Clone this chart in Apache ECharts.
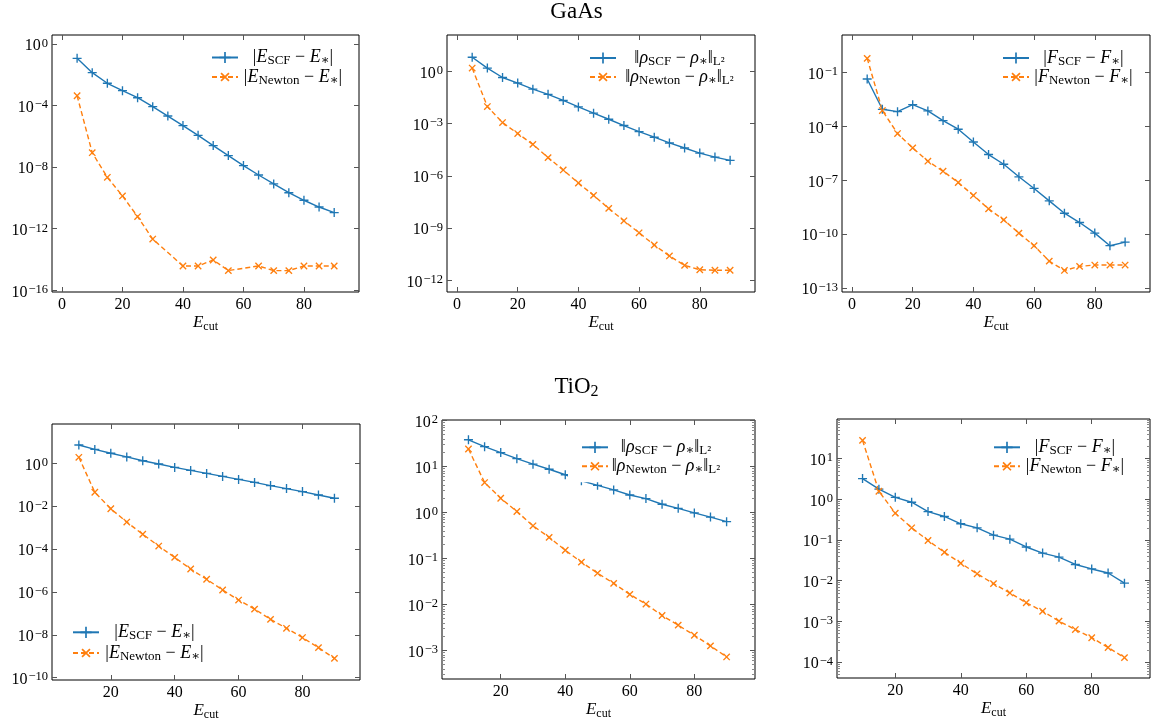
<!DOCTYPE html>
<html><head><meta charset="utf-8">
<script src="https://cdn.jsdelivr.net/npm/echarts@6/dist/echarts.min.js"></script>
<style>html,body{margin:0;padding:0;background:#fff}#c{width:1153px;height:726px}</style>
</head><body><div id="c"></div>
<script>
// ---------------- data ----------------
const ecutGaAs = [5,10,15,20,25,30,35,40,45,50,55,60,65,70,75,80,85,90];
const ecutTiO2 = [10,15,20,25,30,35,40,45,50,55,60,65,70,75,80,85,90];

const gaasEnergyScf = [1.17e-1,1.38e-2,2.82e-3,9.33e-4,3.24e-4,8.51e-5,2.09e-5,5.01e-6,1.17e-6,2.51e-7,5.62e-8,1.26e-8,3.09e-9,8.13e-10,2.19e-10,7.08e-11,2.57e-11,1.12e-11];
const gaasEnergyNewton = [4.37e-4,8.71e-8,2.19e-9,1.35e-10,6.17e-12,2.14e-13,null,3.80e-15,3.80e-15,9.33e-15,1.91e-15,null,3.80e-15,1.91e-15,1.91e-15,3.80e-15,3.80e-15,3.80e-15];
const gaasDensityScf = [6.46,1.55,4.47e-1,2.14e-1,9.55e-2,4.79e-2,2.14e-2,9.12e-3,3.98e-3,1.78e-3,7.76e-4,3.47e-4,1.66e-4,7.76e-5,3.98e-5,2.04e-5,1.20e-5,7.76e-6];
const gaasDensityNewton = [1.55,9.55e-3,1.15e-3,2.69e-4,6.46e-5,1.12e-5,2.19e-6,3.89e-7,7.59e-8,1.35e-8,2.63e-9,5.37e-10,1.07e-10,2.51e-11,7.24e-12,4.07e-12,3.80e-12,3.80e-12];
const gaasForceScf = [4.47e-2,9.12e-4,6.76e-4,1.66e-3,7.41e-4,2.14e-4,7.08e-5,1.38e-5,2.75e-6,7.94e-7,1.58e-7,3.55e-8,7.24e-9,1.48e-9,4.47e-10,1.15e-10,2.29e-11,3.63e-11];
const gaasForceNewton = [6.31e-1,7.76e-4,4.07e-5,6.46e-6,1.17e-6,3.24e-7,7.59e-8,1.45e-8,2.57e-9,6.31e-10,1.15e-10,2.29e-11,3.16e-12,9.55e-13,1.62e-12,1.91e-12,1.91e-12,1.91e-12];

const tio2EnergyScf = [7.16,4.47,2.95,2.00,1.32,9.33e-1,6.46e-1,4.68e-1,3.39e-1,2.45e-1,1.78e-1,1.29e-1,9.12e-2,6.61e-2,4.79e-2,3.31e-2,2.34e-2];
const tio2EnergyNewton = [1.91,4.47e-2,7.59e-3,1.82e-3,4.90e-4,1.38e-4,4.07e-5,1.17e-5,3.89e-6,1.23e-6,4.17e-7,1.58e-7,5.25e-8,2.00e-8,7.41e-9,2.51e-9,7.94e-10];
const tio2DensityScf = [38.0,26.9,20.0,14.8,11.2,8.71,6.61,4.90,3.89,3.09,2.40,2.00,1.51,1.23,0.977,0.794,0.631];
const tio2DensityNewton = [24.0,4.47,2.04,1.05,0.513,0.288,0.151,0.0832,0.0479,0.0288,0.0166,0.0102,0.00575,0.00355,0.00214,0.00126,0.000724];
const tio2ForceScf = [3.24,1.78,1.12,0.851,0.501,0.380,0.251,0.200,0.132,0.105,0.0676,0.0479,0.0380,0.0251,0.0195,0.0155,0.00871];
const tio2ForceNewton = [28.2,1.58,0.457,0.200,0.0977,0.0501,0.0269,0.0148,0.00851,0.00501,0.00288,0.00178,0.00102,0.000631,0.000398,0.000229,0.000129];

// tick labels
const xTicksGaAs = [0,20,40,60,80];
const xTicksTiO2 = [20,40,60,80];
const yTicksGaAsEnergy = [1e-16,1e-12,1e-8,1e-4,1];
const yTicksGaAsDensity = [1e-12,1e-9,1e-6,1e-3,1];
const yTicksGaAsForce = [1e-13,1e-10,1e-7,1e-4,1e-1];
const yTicksTiO2Energy = [1e-10,1e-8,1e-6,1e-4,1e-2,1];
const yTicksTiO2Density = [1e-3,1e-2,1e-1,1,10,100];
const yTicksTiO2Force = [1e-4,1e-3,1e-2,1e-1,1,10];

const titles = ['GaAs', '{t|TiO}{ts|2}'];
const legendLabels = {
  E: ['{n||}{i|E}{sub|SCF}{n| \u2212 }{i|E}{sub|\u2217}{n||}', '{n||}{i|E}{sub|Newton}{n| \u2212 }{i|E}{sub|\u2217}{n||}'],
  rho: ['{n|\u2016}{i|\u03c1}{sub|SCF}{n| \u2212 }{i|\u03c1}{sub|\u2217}{n|\u2016}{sub|L\u00b2}', '{n|\u2016}{i|\u03c1}{sub|Newton}{n| \u2212 }{i|\u03c1}{sub|\u2217}{n|\u2016}{sub|L\u00b2}'],
  F: ['{n||}{i|F}{sub|SCF}{n| \u2212 }{i|F}{sub|\u2217}{n||}', '{n||}{i|F}{sub|Newton}{n| \u2212 }{i|F}{sub|\u2217}{n||}']
};

// ---------------- layout / style ----------------
const FONT = "'Liberation Serif','DejaVu Serif',serif";
const BLUE = '#1f77b4', ORANGE = '#ff7f0e', TICK = '#555';
const PLUS = 'path://M0,4.25H10V5.75H0Z M4.25,0H5.75V10H4.25Z';

const panels = [
  {grid:[52,35,307,257], x:[-3.3,98.2], y:[Math.pow(10,-16.11),Math.pow(10,0.585)], xTicks:xTicksGaAs, yTicks:yTicksGaAsEnergy, ecut:ecutGaAs, scf:gaasEnergyScf, newton:gaasEnergyNewton, lab:'E', leg:{icon:211, r1:58.5, sp:20.5, tw:100}, minor:false},
  {grid:[447,35,308,257], x:[-3.3,98.2], y:[Math.pow(10,-12.67),Math.pow(10,2.09)], xTicks:xTicksGaAs, yTicks:yTicksGaAsDensity, ecut:ecutGaAs, scf:gaasDensityScf, newton:gaasDensityNewton, lab:'rho', leg:{icon:589, r1:59, sp:20, tw:117}, minor:false},
  {grid:[842,35,308,257], x:[-3.3,98.2], y:[Math.pow(10,-13.22),Math.pow(10,1.10)], xTicks:xTicksGaAs, yTicks:yTicksGaAsForce, ecut:ecutGaAs, scf:gaasForceScf, newton:gaasForceNewton, lab:'F', leg:{icon:1002, r1:59, sp:20, tw:99}, minor:false},
  {grid:[52,424,308,256], x:[1.6,98.0], y:[Math.pow(10,-10.11),Math.pow(10,1.835)], xTicks:xTicksTiO2, yTicks:yTicksTiO2Energy, ecut:ecutTiO2, scf:tio2EnergyScf, newton:tio2EnergyNewton, lab:'E', leg:{icon:72, r1:633.3, sp:21.7, tw:101}, minor:false},
  {grid:[442,420,313,259], x:[1.8,98.8], y:[Math.pow(10,-3.62),Math.pow(10,2.01)], xTicks:xTicksTiO2, yTicks:yTicksTiO2Density, ecut:ecutTiO2, scf:tio2DensityScf, newton:tio2DensityNewton, lab:'rho', leg:{icon:581, r1:448.3, sp:20, tw:106}, minor:true},
  {grid:[837,419,313,259], x:[2.2,97.8], y:[Math.pow(10,-4.39),Math.pow(10,1.975)], xTicks:xTicksTiO2, yTicks:yTicksTiO2Force, ecut:ecutTiO2, scf:tio2ForceScf, newton:tio2ForceNewton, lab:'F', leg:{icon:993, r1:448.3, sp:20, tw:100}, minor:true}
];

const RICH_LEG = {
  n:{fontFamily:FONT, fontSize:18, color:'#000', lineHeight:20, align:'center'},
  i:{fontFamily:FONT, fontSize:18, fontStyle:'italic', color:'#000', lineHeight:20, align:'center'},
  sub:{fontFamily:FONT, fontSize:13, color:'#000', lineHeight:12, verticalAlign:'bottom', align:'center'}
};
const RICH_NAME = {
  i:{fontFamily:FONT, fontSize:17, fontStyle:'italic', color:'#000', lineHeight:20},
  sub:{fontFamily:FONT, fontSize:12, color:'#000', lineHeight:12, verticalAlign:'bottom'}
};
const RICH_TICK = {
  b:{fontFamily:FONT, fontSize:16, color:'#000', lineHeight:18},
  s:{fontFamily:FONT, fontSize:12.5, color:'#000', lineHeight:12, verticalAlign:'top', padding:[0,0,0,1]}
};
function powLabel(v){
  const e = Math.round(Math.log10(v));
  return '{b|10}{s|' + (e < 0 ? '\u2212' + (-e) : String(e)) + '}';
}
function minorValues(lo, hi){
  const out = [];
  for (let d = Math.floor(Math.log10(lo)); d <= Math.ceil(Math.log10(hi)); d++) {
    for (let k = 2; k <= 9; k++) { const v = k * Math.pow(10, d); if (v > lo && v < hi) out.push(v); }
  }
  return out;
}

const grids = [], xAxes = [], yAxes = [], series = [], legends = [];
const noLine = {show:false, onZero:false};
panels.forEach((p, i) => {
  grids.push({left:p.grid[0], top:p.grid[1], width:p.grid[2], height:p.grid[3], show:true, borderColor:'#000', borderWidth:1, backgroundColor:'transparent', containLabel:false, outerBoundsMode:'none'});
  const xi = xAxes.length;
  const tickStyle = {color:TICK, width:1};
  xAxes.push({type:'value', gridIndex:i, min:p.x[0], max:p.x[1], position:'bottom',
    axisLine:noLine, splitLine:{show:false},
    axisTick:{show:true, inside:true, length:5, customValues:p.xTicks, lineStyle:tickStyle},
    axisLabel:{customValues:p.xTicks, margin:5, fontSize:16, fontFamily:FONT, color:'#000'},
    name:'{i|E}{sub|cut}', nameLocation:'middle', nameGap:21, nameMoveOverlap:false,
    nameTextStyle:{rich:RICH_NAME}});
  xAxes.push({type:'value', gridIndex:i, min:p.x[0], max:p.x[1], position:'top',
    axisLine:noLine, splitLine:{show:false},
    axisTick:{show:true, inside:true, length:5, customValues:p.xTicks, lineStyle:tickStyle},
    axisLabel:{show:false}});
  const yi = yAxes.length;
  yAxes.push({type:'log', logBase:10, gridIndex:i, min:p.y[0], max:p.y[1], position:'left',
    axisLine:noLine, splitLine:{show:false},
    axisTick:{show:true, inside:true, length:5, customValues:p.yTicks, lineStyle:tickStyle},
    axisLabel:{customValues:p.yTicks, formatter:powLabel, margin:4, padding:[4,0,0,0], rich:RICH_TICK}});
  yAxes.push({type:'log', logBase:10, gridIndex:i, min:p.y[0], max:p.y[1], position:'right',
    axisLine:noLine, splitLine:{show:false},
    axisTick:{show:true, inside:true, length:5, customValues:p.yTicks, lineStyle:tickStyle},
    axisLabel:{show:false}});
  if (p.minor) {
    const mv = minorValues(p.y[0], p.y[1]);
    ['left','right'].forEach(pos => yAxes.push({type:'log', logBase:10, gridIndex:i, min:p.y[0], max:p.y[1], position:pos,
      axisLine:noLine, splitLine:{show:false},
      axisTick:{show:true, inside:true, length:3, customValues:mv, lineStyle:{color:'#888', width:1}},
      axisLabel:{show:false}}));
  }
  const nScf = 'p' + i + 'scf', nNew = 'p' + i + 'newton';
  series.push({type:'line', name:nScf, xAxisIndex:xi, yAxisIndex:yi,
    data:p.ecut.map((x, j) => [x, p.scf[j]]), symbol:PLUS, symbolSize:9, connectNulls:true,
    lineStyle:{color:BLUE, width:1.4}, itemStyle:{color:BLUE}, animation:false, silent:true});
  series.push({type:'line', name:nNew, xAxisIndex:xi, yAxisIndex:yi,
    data:p.ecut.map((x, j) => [x, p.newton[j]]), symbol:PLUS, symbolRotate:45, symbolSize:9, connectNulls:true,
    lineStyle:{color:ORANGE, width:1.4, type:[5,3]}, itemStyle:{color:ORANGE}, animation:false, silent:true});
  const labs = legendLabels[p.lab];
  const fm = {}; fm[nScf] = labs[0]; fm[nNew] = labs[1];
  legends.push({data:[nScf, nNew], orient:'vertical', left:p.leg.icon - 13, top:p.leg.r1 - 10 - 6,
    itemWidth:26, itemHeight:14, itemGap:p.leg.sp - 20, padding:[6,4,6,13], backgroundColor:'#fff',
    selectedMode:false, formatter:n => fm[n],
    textStyle:{width:p.leg.tw, fontFamily:FONT, fontSize:18, color:'#000', rich:RICH_LEG}});
});

const chart = echarts.init(document.getElementById('c'), null, {renderer:'canvas'});
chart.setOption({
  backgroundColor:'#fff',
  animation:false,
  title:[
    {text:titles[0], left:'center', top:0, padding:0, textStyle:{fontFamily:FONT, fontSize:23, fontWeight:'normal', color:'#000'}},
    {text:titles[1], left:'center', top:374, padding:0, textStyle:{fontWeight:'normal', rich:{
      t:{fontFamily:FONT, fontSize:23, fontWeight:'normal', color:'#000', lineHeight:26},
      ts:{fontFamily:FONT, fontSize:16, fontWeight:'normal', color:'#000', lineHeight:14, verticalAlign:'bottom'}}}}
  ],
  grid:grids, xAxis:xAxes, yAxis:yAxes, legend:legends, series:series
});
</script></body></html>
